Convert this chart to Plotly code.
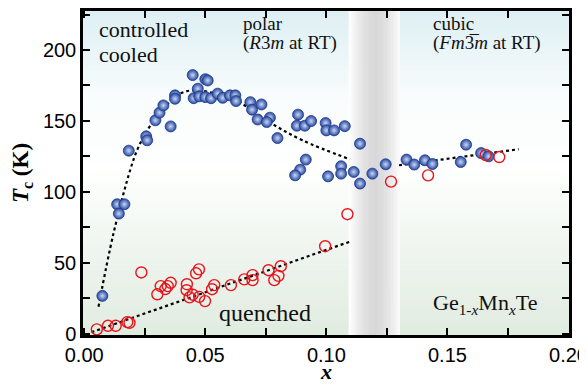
import plotly.graph_objects as go

# ---------------- data ----------------
cc_x = [0.0075, 0.0136, 0.0166, 0.0143, 0.0184, 0.0256, 0.0260, 0.0294, 0.0311, 0.0327,
        0.0357, 0.0375, 0.0375, 0.0448, 0.0500, 0.0510, 0.0469, 0.0452, 0.0475, 0.0500,
        0.0524, 0.0551, 0.0572, 0.0602, 0.0624, 0.0627, 0.0686, 0.0693, 0.0732, 0.0716,
        0.0767, 0.0754, 0.0798, 0.0883, 0.0878, 0.0911, 0.0937, 0.0997, 0.1000, 0.1032,
        0.1076, 0.1139, 0.0915, 0.0892, 0.0871, 0.1007, 0.1061, 0.1061, 0.1113, 0.1139,
        0.1190, 0.1245, 0.1331, 0.1363, 0.1407, 0.1438, 0.1555, 0.1577, 0.1639, 0.1670]
cc_T = [26.6, 91.2, 91.2, 84.6, 129.0, 139.1, 136.3, 150.4, 155.8, 160.9,
        146.1, 168.0, 165.6, 182.3, 179.4, 178.5, 172.7, 166.0, 167.3, 166.8,
        166.0, 169.2, 166.3, 168.0, 168.0, 164.0, 163.2, 157.9, 161.6, 151.0,
        152.3, 149.2, 137.9, 154.4, 146.6, 146.6, 149.9, 148.5, 143.3, 143.3,
        146.3, 133.9, 122.7, 115.6, 111.6, 110.9, 118.0, 112.8, 114.0, 105.8,
        112.8, 119.4, 122.7, 119.2, 122.2, 119.6, 121.0, 133.2, 127.3, 125.0]

q_x = [0.0052, 0.0098, 0.0130, 0.0178, 0.0187, 0.0236, 0.0302, 0.0316, 0.0335, 0.0345,
       0.0357, 0.0424, 0.0423, 0.0435, 0.0448, 0.0475, 0.0499, 0.0462, 0.0474, 0.0528,
       0.0537, 0.0606, 0.0661, 0.0695, 0.0695, 0.0761, 0.0785, 0.0802, 0.0812, 0.0995,
       0.1087, 0.1267, 0.1420, 0.1658, 0.1714]
q_T = [3.0, 5.5, 5.5, 8.1, 7.6, 43.1, 27.7, 33.5, 31.4, 33.5,
       35.8, 34.8, 30.6, 25.5, 27.4, 25.9, 22.9, 42.5, 45.3, 31.3,
       34.2, 34.2, 38.2, 41.2, 37.7, 44.7, 37.7, 40.7, 47.5, 61.6,
       84.2, 107.2, 111.6, 125.9, 124.5]

# dotted guide curves
fit_cc_x = [0.0059, 0.0120, 0.0191, 0.0221, 0.0256, 0.0297, 0.0338, 0.0393, 0.0448,
            0.0530, 0.0627, 0.0764, 0.0901, 0.1098]
fit_cc_T = [18.9, 70.0, 116.0, 130.4, 142.0, 152.7, 160.9, 169.0, 171.5,
            169.8, 164.4, 149.2, 136.3, 122.9]
fit_cub_x = [0.1300, 0.1794]
fit_cub_T = [118.7, 130.0]
fit_q_x = [0.0030, 0.1100]
fit_q_T = [1.0, 65.0]

x_ticks = [0.00, 0.05, 0.10, 0.15, 0.20]
x_tick_text = ["0.00", "0.05", "0.10", "0.15", "0.20"]
y_ticks = [0, 50, 100, 150, 200]
y_tick_text = ["0", "50", "100", "150", "200"]

# ---------------- figure ----------------
fig = go.Figure()

shapes = []
# background gradient (cyan top -> white -> pale green bottom)
stops = [(0.0, (225, 236, 225)), (0.25, (238, 244, 238)), (0.5, (254, 255, 254)),
         (0.72, (250, 253, 253)), (1.0, (221, 239, 243))]
N = 60
def interp(t):
    for (a, ca), (b, cb) in zip(stops[:-1], stops[1:]):
        if a <= t <= b:
            f = (t - a) / (b - a)
            return tuple(int(round(ca[i] + (cb[i] - ca[i]) * f)) for i in range(3))
    return stops[-1][1]
for i in range(N):
    y0 = i / N
    y1 = (i + 1) / N
    c = interp((y0 + y1) / 2)
    shapes.append(dict(type="rect", xref="x domain", yref="y domain", x0=0, x1=1,
                       y0=y0, y1=y1 + 0.002, fillcolor="rgb(%d,%d,%d)" % c,
                       line=dict(width=0), layer="below"))

# grey vertical band
band_l, band_r = 0.1092, 0.1302
M = 30
for i in range(M):
    f0 = i / M
    f1 = (i + 1) / M
    fc = (f0 + f1) / 2
    d = abs(fc - 0.52) / 0.5
    g = int(round(216 + 38 * min(1.0, d ** 1.6)))
    shapes.append(dict(type="rect", xref="x", yref="y domain",
                       x0=band_l + (band_r - band_l) * f0,
                       x1=band_l + (band_r - band_l) * f1 + 0.0002,
                       y0=0, y1=1, fillcolor="rgb(%d,%d,%d)" % (g, g, g),
                       line=dict(width=0), layer="below"))

fig.add_trace(go.Scatter(x=fit_cc_x, y=fit_cc_T, mode="lines",
                         line=dict(color="black", width=2.2, dash="dot", shape="spline", smoothing=1.0),
                         hoverinfo="skip", showlegend=False))
fig.add_trace(go.Scatter(x=fit_cub_x, y=fit_cub_T, mode="lines",
                         line=dict(color="black", width=2.2, dash="dot"),
                         hoverinfo="skip", showlegend=False))
fig.add_trace(go.Scatter(x=fit_q_x, y=fit_q_T, mode="lines",
                         line=dict(color="black", width=2.2, dash="dot"),
                         hoverinfo="skip", showlegend=False))

fig.add_trace(go.Scatter(x=cc_x, y=cc_T, mode="markers", name="controlled cooled",
                         marker=dict(size=11, color="#2748a0",
                                     gradient=dict(type="radial", color="#c9d7f6"),
                                     line=dict(color="#1d3a8a", width=0.8)),
                         showlegend=False))
fig.add_trace(go.Scatter(x=q_x, y=q_T, mode="markers", name="quenched",
                         marker=dict(size=11, color="rgba(255,255,255,0.0)", symbol="circle",
                                     line=dict(color="#e8141c", width=1.4)),
                         showlegend=False))

serif = "Liberation Serif"
sans = "Liberation Sans"

ann = [
    dict(text="controlled", x=0.028, y=0.987, size=22, ya="top"),
    dict(text="cooled", x=0.028, y=0.911, size=22, ya="top"),
    dict(text="polar", x=0.325, y=1.0, size=19, ya="top"),
    dict(text="(<i>R</i>3<i>m</i> at RT)", x=0.325, y=0.94, size=19, ya="top"),
    dict(text="cubic", x=0.717, y=1.0, size=19, ya="top"),
    dict(text="(<i>Fm</i>3\u0305<i>m</i> at RT)", x=0.717, y=0.94, size=19, ya="top"),
    dict(text="quenched", x=0.276, y=0.113, size=24, ya="top"),
    dict(text="Ge<sub>1-<i>x</i></sub>Mn<sub><i>x</i></sub>Te", x=0.717, y=0.145, size=22, ya="top"),
]
annotations = []
for a in ann:
    annotations.append(dict(text=a["text"], x=a["x"], y=a["y"], xref="paper", yref="paper",
                            xanchor="left", yanchor=a["ya"], showarrow=False,
                            font=dict(family=serif, size=a["size"], color="#111111")))
# x-axis title placed as a text below the tick labels
annotations.append(dict(text="<b><i>x</i></b>", x=0.5, y=-0.158, xref="paper", yref="paper",
                        xanchor="center", yanchor="bottom", showarrow=False,
                        font=dict(family=serif, size=22, color="black")))

# page body has an 8px margin: figure is sized/margined so the plot frame lands
# where the reference has it inside the 587x385 window
fig.update_layout(
    width=587, height=377,
    margin=dict(l=75, r=26, t=3, b=50),
    paper_bgcolor="white", plot_bgcolor="white",
    shapes=shapes, annotations=annotations,
    showlegend=False,
    font=dict(family=sans),
    xaxis=dict(range=[-0.0005, 0.2002], tickvals=x_ticks, ticktext=x_tick_text,
               ticks="inside", ticklen=7, tickwidth=1.5, tickcolor="black",
               minor=dict(ticks="inside", dtick=0.025, tick0=0, ticklen=7, tickwidth=1.5, tickcolor="black"),
               showline=True, linecolor="black", linewidth=2.5, mirror="ticks",
               showgrid=False, zeroline=False, ticklabeloverflow="allow", automargin=False,
               tickfont=dict(family=sans, size=20, color="black")),
    yaxis=dict(range=[-1, 227.5], tickvals=y_ticks, ticktext=y_tick_text,
               ticks="inside", ticklen=7, tickwidth=1.5, tickcolor="black",
               minor=dict(ticks="inside", dtick=25, tick0=0, ticklen=7, tickwidth=1.5, tickcolor="black"),
               showline=True, linecolor="black", linewidth=2.5, mirror="ticks",
               showgrid=False, zeroline=False, automargin=False,
               tickfont=dict(family=sans, size=20, color="black"),
               title=dict(text="<b><i>T</i><sub>c</sub> (K)</b>", font=dict(family=serif, size=23, color="black"), standoff=8)),
)

fig.write_html("out.html")
